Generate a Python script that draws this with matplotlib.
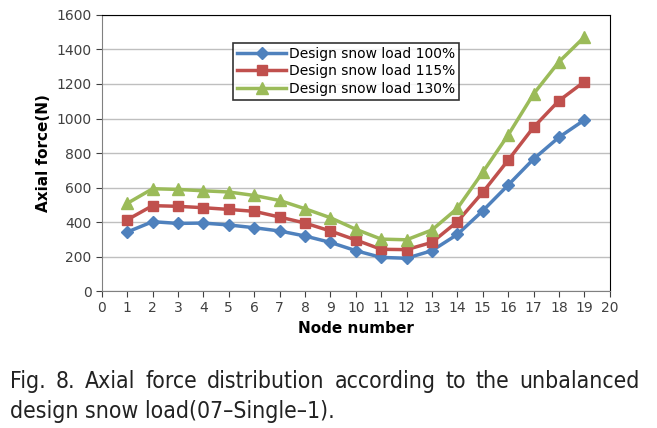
import matplotlib.pyplot as plt
import numpy as np

nodes = list(range(1, 20))
load_100 = [342, 402, 392, 394, 383, 367, 348, 319, 282, 234, 195, 190, 234, 328, 465, 614, 765, 891, 991]
load_115 = [413, 495, 491, 483, 473, 462, 429, 394, 348, 296, 242, 240, 282, 402, 572, 758, 949, 1103, 1213]
load_130 = [508, 593, 589, 581, 574, 554, 525, 477, 425, 358, 301, 297, 354, 479, 688, 904, 1142, 1328, 1472]
labels = ["Design snow load 100%", "Design snow load 115%", "Design snow load 130%"]
caption = ["Fig. 8. Axial force distribution according to the unbalanced",
           "design snow load(07\u2013Single\u20131)."]

fig = plt.figure(figsize=(6.57, 4.28), dpi=100)
ax = fig.add_axes([0.155, 0.320, 0.773, 0.645])

ax.plot(nodes, load_100, color="#4F81BD", marker="D", markersize=6.5, linewidth=2.5, label=labels[0])
ax.plot(nodes, load_115, color="#C0504D", marker="s", markersize=7, linewidth=2.5, label=labels[1])
ax.plot(nodes, load_130, color="#9BBB59", marker="^", markersize=8, linewidth=2.5, label=labels[2])

ax.set_xlim(0, 20)
ax.set_ylim(0, 1600)
ax.set_xticks(range(0, 21))
ax.set_yticks(range(0, 1601, 200))
ax.yaxis.grid(True, color="#BFBFBF", linewidth=1)
ax.set_axisbelow(True)
ax.tick_params(labelsize=10, direction="out", length=4, colors="#404040")
for s in ["left", "bottom"]:
    ax.spines[s].set_color("#808080")
for s in ["top", "right"]:
    ax.spines[s].set_color("black")

ax.set_xlabel("Node number", fontsize=11, fontweight="bold")
ax.set_ylabel("Axial force(N)", fontsize=11, fontweight="bold")

leg = ax.legend(loc="upper left", bbox_to_anchor=(0.245, 0.925), fontsize=10,
                frameon=True, fancybox=False, edgecolor="black", borderpad=0.3,
                labelspacing=0.25, handlelength=3.5, handletextpad=0.2)
leg.get_frame().set_linewidth(1.2)

# caption: first line justified between x=10 and x=640 px
fig.canvas.draw()
renderer = fig.canvas.get_renderer()
cap_kw = dict(fontsize=16.5, fontstretch="condensed", family="DejaVu Sans",
              color="#222222", va="baseline")
W = fig.bbox.width
words = caption[0].split(" ")
texts = [fig.text(0, 0.093, wd, **cap_kw) for wd in words]
widths = [t.get_window_extent(renderer).width for t in texts]
gap = (630 - sum(widths)) / (len(words) - 1)
x = 10
for t, wd in zip(texts, widths):
    t.set_x(x / W)
    x += wd + gap
fig.text(10 / W, 0.023, caption[1], **cap_kw)

fig.savefig("out.png", dpi=100)
